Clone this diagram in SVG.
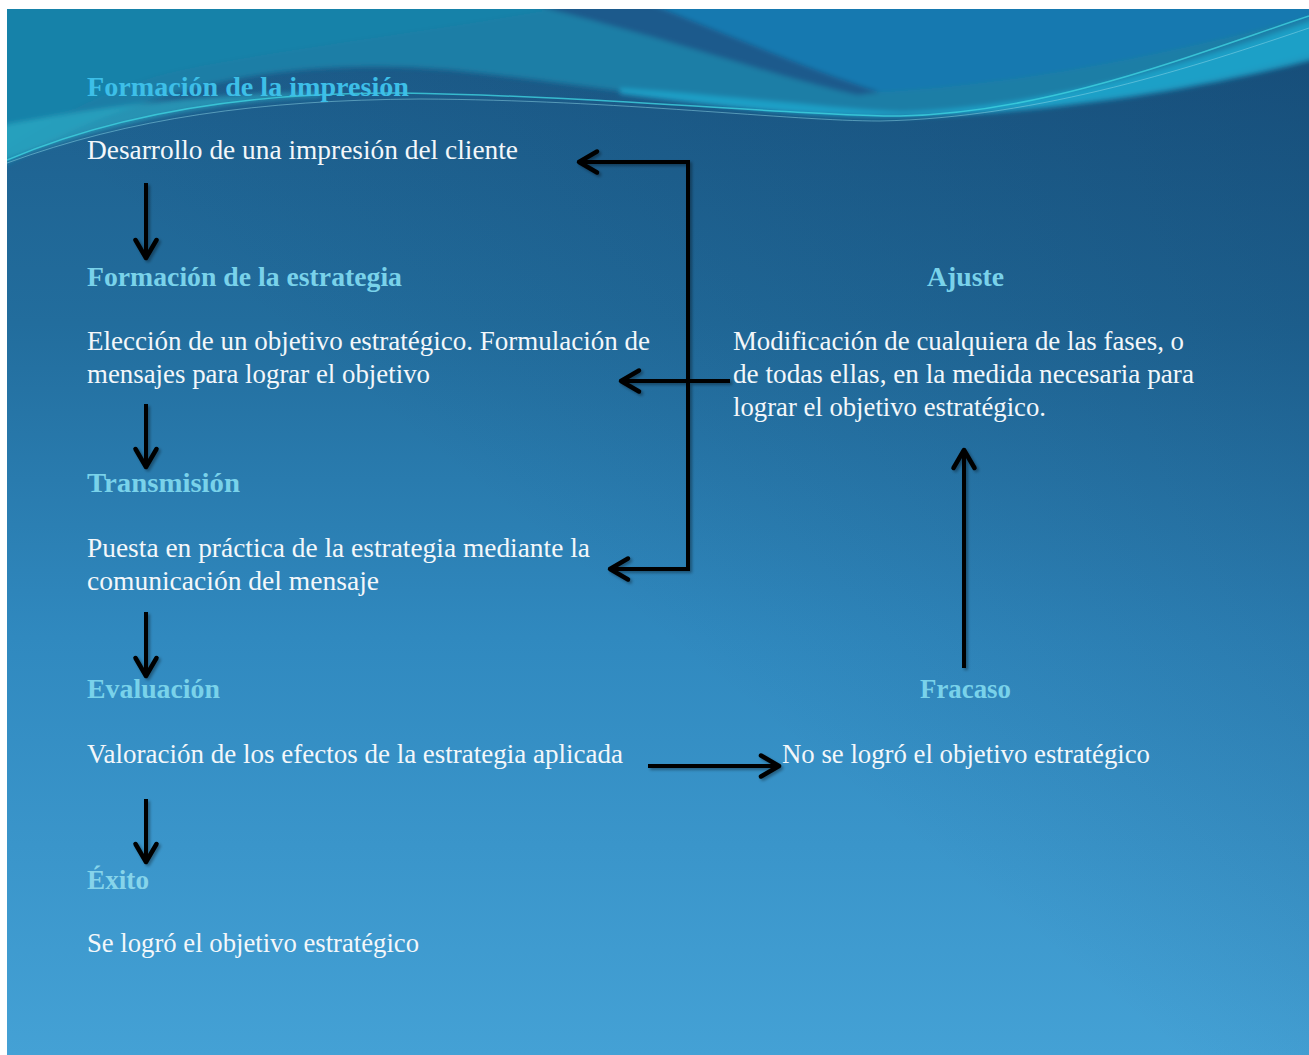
<svg xmlns="http://www.w3.org/2000/svg" width="1309" height="1055" viewBox="0 0 1309 1055">
  <defs>
    <linearGradient id="bg" x1="0" y1="0" x2="0" y2="1">
      <stop offset="0" stop-color="#1c5c8a"/>
      <stop offset="0.3" stop-color="#226d9d"/>
      <stop offset="0.6" stop-color="#3089bf"/>
      <stop offset="1" stop-color="#44a1d5"/>
    </linearGradient>
    <linearGradient id="shade" x1="1" y1="0" x2="0.45" y2="0.55">
      <stop offset="0" stop-color="#0b2e55" stop-opacity="0.35"/>
      <stop offset="1" stop-color="#0b2e55" stop-opacity="0"/>
    </linearGradient>
    <clipPath id="slide"><rect x="7" y="9" width="1302" height="1046"/></clipPath>
    <filter id="soft" x="-5%" y="-50%" width="110%" height="200%">
      <feGaussianBlur stdDeviation="2.5"/>
    </filter>
    <filter id="sh" x="-20%" y="-20%" width="140%" height="140%">
      <feDropShadow dx="2" dy="2" stdDeviation="1.5" flood-color="#000" flood-opacity="0.35"/>
    </filter>
    <marker id="head" markerUnits="userSpaceOnUse" viewBox="-24 -14 28 28" refX="0" refY="0" markerWidth="28" markerHeight="28" orient="auto">
      <path d="M-18,-10.5 L0,0 L-18,10.5" fill="none" stroke="#000" stroke-width="4.5" stroke-linecap="round" stroke-linejoin="round"/>
    </marker>
    <style>
      .h { font-family: "Liberation Serif", "Times New Roman", serif; font-weight: bold; font-size: 27px; fill: #79d2ea; }
      .t { font-family: "Liberation Serif", "Times New Roman", serif; font-size: 27px; fill: #f3f7fa; }
      .a { fill: none; stroke: #000; stroke-width: 4; marker-end: url(#head); }
      .ln { fill: none; stroke: #000; stroke-width: 4; }
    </style>
  </defs>

  <rect x="0" y="0" width="1309" height="1055" fill="#ffffff"/>
  <rect x="7" y="9" width="1302" height="1046" fill="url(#bg)"/>
  <rect x="7" y="9" width="1302" height="1046" fill="url(#shade)"/>

  <!-- top wave -->
  <g clip-path="url(#slide)">
    <g filter="url(#soft)">
      <path d="M0,0 H1320 V52 C1200,85 1050,112 900,114 C750,116 600,85 450,70 C300,57 150,80 0,168 Z" fill="#1a7ea6"/>
      <path d="M0,0 H600 C450,30 300,45 180,70 C110,85 50,120 0,152 Z" fill="#1786ab" opacity="0.6"/>
      <path d="M520,0 H1320 V14 C1200,45 1050,82 880,92 C780,72 680,35 520,0 Z" fill="#1479b0"/>
      <path d="M520,0 L640,0 C730,35 810,70 880,92 L858,95 C780,78 690,45 560,12 Z" fill="#1b5a8c"/>
      <path d="M620,88 C750,98 850,110 900,112 C1050,108 1200,60 1320,18 V58 C1200,90 1050,114 900,117 C800,118 700,104 620,94 Z" fill="#1ea6cc" opacity="0.85"/>
      <path d="M0,126 C100,106 200,95 320,92 L320,97 C200,101 100,128 0,162 Z" fill="#2fb4cc" opacity="0.6"/>
    </g>
    <path d="M7,160 C120,112 250,92 400,93 C600,96 800,116 900,116 C1050,113 1200,52 1309,16" fill="none" stroke="#3fd2e0" stroke-width="1.5" opacity="0.8"/>
    <path d="M7,163 C130,118 260,100 420,99 C620,100 790,121 880,121 C1040,118 1200,65 1309,28" fill="none" stroke="#8fd7e8" stroke-width="1" opacity="0.5"/>
  </g>

  <!-- connectors -->
  <g id="connectors" filter="url(#sh)">
    <line class="a" x1="146" y1="183" x2="146" y2="258"/>
    <line class="a" x1="146" y1="404" x2="146" y2="467"/>
    <line class="a" x1="146" y1="612" x2="146" y2="676"/>
    <line class="a" x1="146" y1="799" x2="146" y2="862"/>
    <polyline class="ln" points="688,162 688,569"/>
    <line class="a" x1="690" y1="162" x2="579" y2="162"/>
    <line class="a" x1="690" y1="569" x2="610" y2="569"/>
    <line class="a" x1="730" y1="381" x2="621" y2="381"/>
    <line class="a" x1="648" y1="766" x2="779" y2="766"/>
    <line class="a" x1="964" y1="668" x2="964" y2="450"/>
  </g>

  <g id="impresion">
    <text class="h" x="87" y="96" textLength="322" lengthAdjust="spacingAndGlyphs" style="fill:#3dbfe8">Formación de la impresión</text>
    <text class="t" x="87" y="159" textLength="431" lengthAdjust="spacingAndGlyphs">Desarrollo de una impresión del cliente</text>
  </g>
  <g id="estrategia">
    <text class="h" x="87" y="286" textLength="315" lengthAdjust="spacingAndGlyphs">Formación de la estrategia</text>
    <text class="t" x="87" y="350" textLength="563" lengthAdjust="spacingAndGlyphs">Elección de un objetivo estratégico. Formulación de</text>
    <text class="t" x="87" y="383" textLength="343" lengthAdjust="spacingAndGlyphs">mensajes para lograr el objetivo</text>
  </g>
  <g id="transmision">
    <text class="h" x="87" y="492" textLength="153" lengthAdjust="spacingAndGlyphs">Transmisión</text>
    <text class="t" x="87" y="557" textLength="503" lengthAdjust="spacingAndGlyphs">Puesta en práctica de la estrategia mediante la</text>
    <text class="t" x="87" y="590" textLength="292" lengthAdjust="spacingAndGlyphs">comunicación del mensaje</text>
  </g>
  <g id="evaluacion">
    <text class="h" x="87" y="698" textLength="133" lengthAdjust="spacingAndGlyphs">Evaluación</text>
    <text class="t" x="87" y="763" textLength="536" lengthAdjust="spacingAndGlyphs">Valoración de los efectos de la estrategia aplicada</text>
  </g>
  <g id="exito">
    <text class="h" x="87" y="889" textLength="62" lengthAdjust="spacingAndGlyphs" style="fill:#86d4ea">Éxito</text>
    <text class="t" x="87" y="952" textLength="332" lengthAdjust="spacingAndGlyphs">Se logró el objetivo estratégico</text>
  </g>
  <g id="ajuste">
    <text class="h" x="927" y="286" textLength="77" lengthAdjust="spacingAndGlyphs">Ajuste</text>
    <text class="t" x="733" y="350" textLength="451" lengthAdjust="spacingAndGlyphs">Modificación de cualquiera de las fases, o</text>
    <text class="t" x="733" y="383" textLength="461" lengthAdjust="spacingAndGlyphs">de todas ellas, en la medida necesaria para</text>
    <text class="t" x="733" y="416" textLength="313" lengthAdjust="spacingAndGlyphs">lograr el objetivo estratégico.</text>
  </g>
  <g id="fracaso">
    <text class="h" x="920" y="698" textLength="91" lengthAdjust="spacingAndGlyphs">Fracaso</text>
    <text class="t" x="782" y="763" textLength="368" lengthAdjust="spacingAndGlyphs">No se logró el objetivo estratégico</text>
  </g>
</svg>
